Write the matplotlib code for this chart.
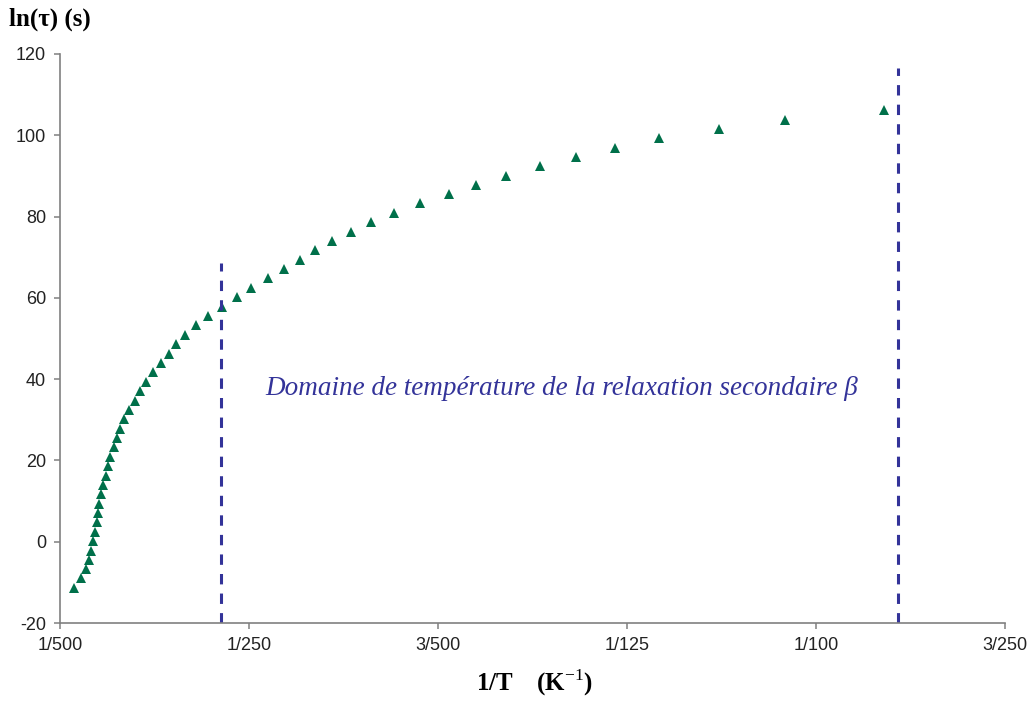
import matplotlib
matplotlib.use("Agg")
import matplotlib.pyplot as plt
import numpy as np

# 1/T in units of 1e-3 K^-1
inv_T_milli = [2.152, 2.226, 2.279, 2.307, 2.332, 2.353, 2.371, 2.389, 2.403, 2.416,
               2.434, 2.459, 2.487, 2.512, 2.533, 2.569, 2.601, 2.636, 2.681, 2.731,
               2.791, 2.848, 2.911, 2.985, 3.070, 3.152, 3.229, 3.321, 3.438, 3.571,
               3.709, 3.868, 4.023, 4.200, 4.366, 4.535, 4.698, 4.881, 5.079, 5.295,
               5.535, 5.810, 6.113, 6.407, 6.721, 7.082, 7.459, 7.876, 8.335, 8.978,
               9.673, 10.715]
ln_tau = [-11.5, -9.0, -6.8, -4.5, -2.2, 0.1, 2.5, 4.8, 7.0, 9.3,
          11.7, 13.9, 16.2, 18.6, 20.9, 23.2, 25.4, 27.7, 30.1, 32.4,
          34.7, 37.0, 39.4, 41.7, 44.0, 46.3, 48.6, 50.9, 53.2, 55.5,
          57.8, 60.2, 62.5, 64.8, 67.1, 69.4, 71.7, 74.0, 76.3, 78.7,
          80.9, 83.3, 85.5, 87.8, 90.1, 92.4, 94.7, 96.9, 99.3, 101.5,
          103.8, 106.2]

# limits of the beta relaxation domain (1/T, top of dashed line)
beta_x = [1 / 270, 1 / 92]
beta_top = [68.6, 116.5]

xticks = [0.002, 0.004, 0.006, 0.008, 0.010, 0.012]
xticklabels = ["1/500", "1/250", "3/500", "1/125", "1/100", "3/250"]
yticks = [-20, 0, 20, 40, 60, 80, 100, 120]

plt.rcParams['axes.unicode_minus'] = False
plt.rcParams['mathtext.fontset'] = 'custom'
plt.rcParams['mathtext.bf'] = 'Liberation Serif:bold'
plt.rcParams['mathtext.rm'] = 'Liberation Serif'

fig = plt.figure(figsize=(10.34, 7.04), dpi=100)
ax = fig.add_axes([60 / 1034, 1 - 623 / 704, 945 / 1034, 569 / 704])

x = np.array(inv_T_milli) / 1000.0
ax.plot(x, ln_tau, linestyle='none', marker='^', markersize=6.5,
        color='#00704a', markeredgewidth=0)

for bx, bt in zip(beta_x, beta_top):
    ax.plot([bx, bx], [-20, bt], color='#333399', linewidth=2.2,
            dashes=(3.4, 3.0), solid_capstyle='butt')

ax.text(0.004172, 37.6, "Domaine de température de la relaxation secondaire β",
        fontsize=19.5, fontstyle='italic', family='Liberation Serif',
        color='#333399', ha='left', va='center')

ax.set_xlim(0.002, 0.012)
ax.set_ylim(-20, 120)
ax.set_xticks(xticks)
ax.set_xticklabels(xticklabels)
ax.set_yticks(yticks)
for lab in ax.get_xticklabels() + ax.get_yticklabels():
    lab.set_family('Liberation Sans')
    lab.set_fontsize(13)
    lab.set_color('#222222')

ax.spines['top'].set_visible(False)
ax.spines['right'].set_visible(False)
for s in ['left', 'bottom']:
    ax.spines[s].set_color('#808080')
    ax.spines[s].set_linewidth(1.2)
ax.tick_params(direction='out', length=4, width=1.1, color='#808080', pad=6)

fig.text(9 / 1034, 1 - 19 / 704, "ln(τ) (s)", fontsize=18, fontweight='bold',
         family='Liberation Serif', ha='left', va='center')
fig.text(535 / 1034, 1 - 683 / 704,
         r'$\mathbf{1/T\ \ \ (K}^{\mathrm{-1}}\mathbf{)}$', fontsize=18,
         ha='center', va='center')

fig.savefig("out.png", dpi=100)
